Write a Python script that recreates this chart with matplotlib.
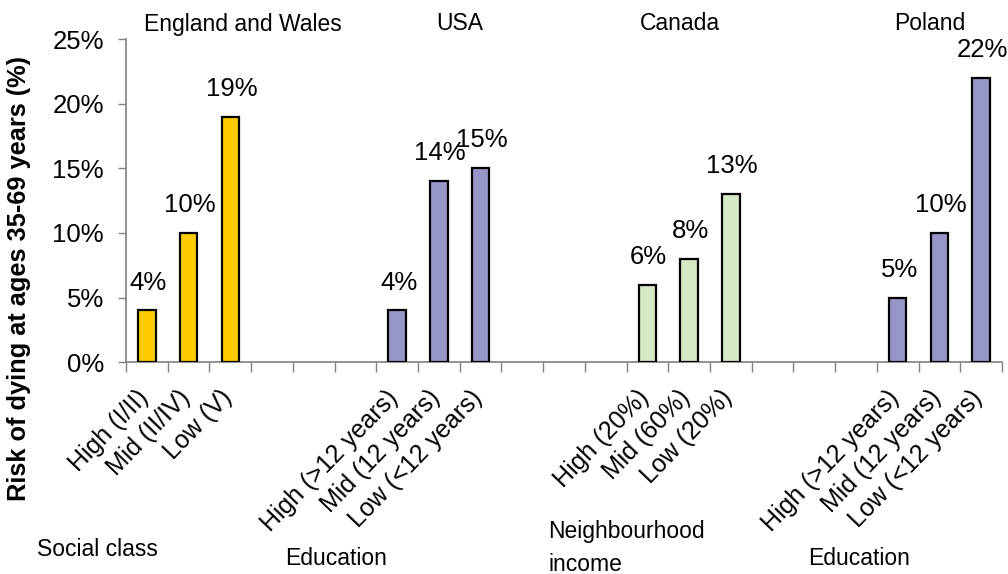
import matplotlib
matplotlib.use("Agg")
import matplotlib.pyplot as plt
from matplotlib.ticker import FuncFormatter

plt.rcParams["font.family"] = ["Liberation Sans", "DejaVu Sans"]

countries = ["England and Wales", "USA", "Canada", "Poland"]
measures = ["Social class", "Education", "Neighbourhood\nincome", "Education"]

england_wales = [4, 10, 19]
usa = [4, 14, 15]
canada = [6, 8, 13]
poland = [5, 10, 22]

social_class_labels = ["High (I/II)", "Mid (II/IV)", "Low (V)"]
education_labels = ["High (>12 years)", "Mid (12 years)", "Low (<12 years)"]
income_labels = ["High (20%)", "Mid (60%)", "Low (20%)"]

series = [england_wales, usa, canada, poland]
tick_labels = [social_class_labels, education_labels, income_labels, education_labels]
colors = ["#FFCC00", "#9696C8", "#D4E8C6", "#9696C8"]

SLOTS_PER_GROUP = 6
N_SLOTS = 21
axis_gray = "#808080"

fig = plt.figure(figsize=(10.08, 5.74), dpi=100)
ax = fig.add_axes([0.125, 0.369, 0.869, 0.563])

for g, values in enumerate(series):
    xs = [g * SLOTS_PER_GROUP + i for i in range(len(values))]
    ax.bar(xs, values, width=0.42, color=colors[g], edgecolor="black",
           linewidth=1.6, zorder=3)
    for x, v in zip(xs, values):
        ax.annotate(f"{v}%", (x, v), xytext=(1, 15), textcoords="offset points",
                    ha="center", va="baseline", fontsize=18.5)
    for x, lab in zip(xs, tick_labels[g]):
        ax.annotate(lab, (x, 0), xytext=(-8, -17), textcoords="offset points",
                    ha="right", va="top", rotation=46, rotation_mode="anchor",
                    fontsize=18, annotation_clip=False)

ax.set_xlim(-0.5, N_SLOTS - 0.5)
ax.set_ylim(0, 25)
ax.set_xticks([i - 0.5 for i in range(N_SLOTS + 1)])
ax.set_xticklabels([])
ax.set_yticks(range(0, 26, 5))
ax.yaxis.set_major_formatter(FuncFormatter(lambda v, _: f"{v:.0f}%"))
ax.tick_params(axis="y", direction="out", length=6, width=1, color=axis_gray,
               labelsize=18.5, pad=10)
ax.tick_params(axis="x", direction="out", length=7, width=1, color=axis_gray)

for side in ["top", "right"]:
    ax.spines[side].set_visible(False)
for side in ["left", "bottom"]:
    ax.spines[side].set_color(axis_gray)
    ax.spines[side].set_linewidth(1.2)

ax.set_ylabel("Risk of dying at ages 35-69 years (%)", fontsize=18.3,
              fontweight="bold")
ax.yaxis.set_label_coords(-0.108, 0.26)

# country headings above each group
title_x = [243, 460, 680, 930]
for name, x in zip(countries, title_x):
    fig.text(x / 1008, 1 - 24 / 574, name, ha="center", va="center", fontsize=16.5)

# grouping variable under each set of labels
measure_pos = [(37, 538), (285, 547), (548, 520), (808, 547)]
for name, (x, y) in zip(measures, measure_pos):
    fig.text(x / 1008, 1 - y / 574, name, ha="left", va="top",
             fontsize=16.5, linespacing=1.55)

fig.savefig("out.png", dpi=100)
